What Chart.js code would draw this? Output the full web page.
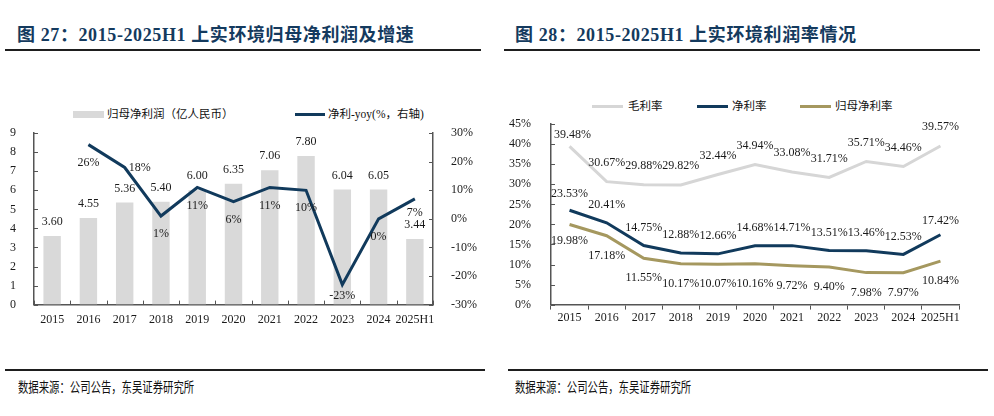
<!DOCTYPE html>
<html>
<head>
<meta charset="utf-8">
<script src="https://cdn.jsdelivr.net/npm/chart.js@4.4.0/dist/chart.umd.min.js"></script>
<style>
  body { margin: 0; width: 994px; height: 416px; background: #fff; position: relative; overflow: hidden;
         font-family: "Liberation Serif", "Noto Sans CJK SC", serif; }
  .title { position: absolute; top: 20px; font-size: 18px; font-weight: bold; color: #143a5e;
           letter-spacing: 0.6px; white-space: nowrap; }
  .rule { position: absolute; height: 2px; background: #1e1e1e; }
  .src { position: absolute; top: 376px; font-family: "Noto Sans CJK SC"; font-size: 14px; color: #111;
         white-space: nowrap; transform: scaleX(0.74); transform-origin: left top; }
  .leg { position: absolute; font-family: "Liberation Serif", "Noto Sans CJK SC"; font-size: 11.5px; color: #111;
         white-space: nowrap; line-height: 14px; }
  .sw { position: absolute; }
  canvas { position: absolute; }
</style>
</head>
<body>

<div class="title" style="left:17px">图 27：2015-2025H1 上实环境归母净利润及增速</div>
<div class="title" style="left:515px">图 28：2015-2025H1 上实环境利润率情况</div>
<div class="rule" style="left:5px; width:476px; top:49px"></div>
<div class="rule" style="left:504px; width:476px; top:49px"></div>

<div class="sw" style="left:73px; top:111px; width:31px; height:7px; background:#d9d9d9"></div>
<div class="leg" style="left:107px; top:107px">归母净利润（亿人民币）</div>
<div class="sw" style="left:295px; top:113px; width:30px; height:3px; background:#113a5c"></div>
<div class="leg" style="left:328px; top:107px">净利-yoy(%，右轴)</div>

<div class="sw" style="left:592px; top:105px; width:31px; height:3px; background:#d6d6d6"></div>
<div class="leg" style="left:628px; top:99px">毛利率</div>
<div class="sw" style="left:697px; top:105px; width:31px; height:3px; background:#113a5c"></div>
<div class="leg" style="left:732px; top:99px">净利率</div>
<div class="sw" style="left:800px; top:105px; width:31px; height:3px; background:#a5985f"></div>
<div class="leg" style="left:835px; top:99px">归母净利率</div>

<canvas id="left-chart" style="left:0; top:116px" width="497" height="215"></canvas>
<canvas id="right-chart" style="left:497px; top:105px" width="497" height="225"></canvas>

<div class="rule" style="left:5px; width:480px; top:369px"></div>
<div class="rule" style="left:508px; width:480px; top:369px"></div>
<div class="src" style="left:18px">数据来源：公司公告，东吴证券研究所</div>
<div class="src" style="left:515px">数据来源：公司公告，东吴证券研究所</div>

<script>
var years = ["2015", "2016", "2017", "2018", "2019", "2020", "2021", "2022", "2023", "2024", "2025H1"];

// 图27
var netProfit = [3.60, 4.55, 5.36, 5.40, 6.00, 6.35, 7.06, 7.80, 6.04, 6.05, 3.44];
var profitYoy = [null, 26, 18, 1, 11, 6, 11, 10, -23, 0, 7];

// 图28
var grossMargin = [39.48, 30.67, 29.88, 29.82, 32.44, 34.94, 33.08, 31.71, 35.71, 34.46, 39.57];
var netMargin = [23.53, 20.41, 14.75, 12.88, 12.66, 14.68, 14.71, 13.51, 13.46, 12.53, 17.42];
var parentMargin = [19.98, 17.18, 11.55, 10.17, 10.07, 10.16, 9.72, 9.40, 7.98, 7.97, 10.84];

var NAVY = "#113a5c";
var GOLD = "#a5985f";
var LIGHT = "#d6d6d6";
var BAR = "#d9d9d9";
var AXIS = "#555555";
var TEXT = "#1a1a1a";
var NUM_FONT = "Liberation Serif";

// value labels drawn next to each bar / point
var valueLabels = {
	id: "valueLabels",
	afterDatasetsDraw: function(chart){
		var ctx = chart.ctx;
		ctx.save();
		ctx.font = "12px '" + NUM_FONT + "'";
		ctx.fillStyle = TEXT;
		ctx.textBaseline = "middle";
		chart.data.datasets.forEach(function(ds, i){
			var lab = ds.valueLabel;
			if(!lab) return;
			chart.getDatasetMeta(i).data.forEach(function(el, j){
				var v = ds.data[j];
				if(v === null || v === undefined) return;
				var dx = 0, dy = lab.dy;
				if(lab.special && lab.special[j]){
					dx = lab.special[j][0];
					dy = lab.special[j][1];
				}
				ctx.textAlign = "center";
				ctx.fillText(lab.format(v), el.x + dx, el.y + dy);
			});
		});
		ctx.restore();
	}
};

// short tick marks on the axis lines
var axisTicks = {
	id: "axisTicks",
	afterDraw: function(chart, args, opts){
		var ctx = chart.ctx;
		ctx.save();
		ctx.strokeStyle = AXIS;
		ctx.lineWidth = 1;
		(opts.list || []).forEach(function(t){
			var s = chart.scales[t.scale];
			var len = t.len;
			ctx.beginPath();
			if(s.isHorizontal()){
				var n = chart.data.labels.length;
				var pts = [s.left, s.right];
				for(var i = 1; i < n; i++){
					pts.push((s.getPixelForValue(i - 1) + s.getPixelForValue(i)) / 2);
				}
				pts.forEach(function(x){
					x = Math.round(x) + 0.5;
					ctx.moveTo(x, s.top);
					ctx.lineTo(x, s.top + len);
				});
			} else {
				s.ticks.forEach(function(tk){
					var y = Math.round(s.getPixelForValue(tk.value)) + 0.5;
					var x0 = s.position === "left" ? s.right : s.left;
					ctx.moveTo(x0, y);
					ctx.lineTo(x0 + (s.position === "left" ? len : -len), y);
				});
			}
			ctx.stroke();
		});
		ctx.restore();
	}
};

function tickFont(){
	return { family: NUM_FONT, size: 12 };
}

function getLeftChart(){
	new Chart("left-chart", {
		data: {
			labels: years,
			datasets: [{
				type: "line",
				label: "净利-yoy(%，右轴)",
				data: profitYoy,
				yAxisID: "y1",
				borderColor: NAVY,
				borderWidth: 3,
				pointRadius: 0,
				tension: 0,
				valueLabel: {
					dy: 18,
					format: function(v){ return v + "%"; },
					special: { 2: [15, 0], 8: [0, 11], 10: [0, 14] }
				}
			}, {
				type: "bar",
				label: "归母净利润（亿人民币）",
				data: netProfit,
				yAxisID: "y",
				backgroundColor: BAR,
				barPercentage: 0.48,
				categoryPercentage: 1,
				valueLabel: {
					dy: -14,
					format: function(v){ return v.toFixed(2); }
				}
			}]
		},
		options: {
			responsive: false,
			animation: false,
			layout: { padding: { left: 0, right: 10, top: 6, bottom: 4 } },
			plugins: {
				legend: { display: false },
				tooltip: { enabled: false },
				axisTicks: { list: [{ scale: "x", len: -4 }, { scale: "y", len: 4 }, { scale: "y1", len: 4 }] }
			},
			scales: {
				x: {
					grid: { display: false },
					border: { color: AXIS, width: 1.5 },
					ticks: { font: tickFont(), color: TEXT, padding: 0, maxRotation: 0, autoSkip: false }
				},
				y: {
					position: "left",
					min: 0, max: 9,
					grid: { display: false },
					border: { color: AXIS, width: 1.5 },
					ticks: { stepSize: 1, font: tickFont(), color: TEXT, padding: 10 }
				},
				y1: {
					position: "right",
					min: -30, max: 30,
					grid: { display: false },
					border: { color: AXIS, width: 1.5 },
					ticks: { stepSize: 10, font: tickFont(), color: TEXT, padding: 10,
						callback: function(v){ return v + "%"; } }
				}
			}
		},
		plugins: [valueLabels, axisTicks]
	});
}

function getRightChart(){
	function pct(v){ return v.toFixed(2) + "%"; }
	new Chart("right-chart", {
		type: "line",
		data: {
			labels: years,
			datasets: [{
				label: "毛利率",
				data: grossMargin,
				borderColor: LIGHT,
				borderWidth: 3,
				pointRadius: 0,
				tension: 0,
				valueLabel: { dy: -19, format: pct, special: { 0: [3, -11] } }
			}, {
				label: "净利率",
				data: netMargin,
				borderColor: NAVY,
				borderWidth: 3,
				pointRadius: 0,
				tension: 0,
				valueLabel: { dy: -18, format: pct, special: { 0: [0, -16], 10: [0, -14] } }
			}, {
				label: "归母净利率",
				data: parentMargin,
				borderColor: GOLD,
				borderWidth: 3,
				pointRadius: 0,
				tension: 0,
				valueLabel: { dy: 20, format: pct, special: { 0: [0, 16] } }
			}]
		},
		options: {
			responsive: false,
			animation: false,
			layout: { padding: { left: 0, right: 35, top: 6, bottom: 4 } },
			plugins: {
				legend: { display: false },
				tooltip: { enabled: false },
				axisTicks: { list: [{ scale: "y", len: 4 }] }
			},
			scales: {
				x: {
					offset: true,
					grid: { offset: true, drawOnChartArea: false, drawTicks: true, tickLength: 5, color: AXIS },
					border: { color: AXIS, width: 1.5 },
					ticks: { font: tickFont(), color: TEXT, padding: 1, maxRotation: 0, autoSkip: false }
				},
				y: {
					min: 0, max: 45,
					grid: { display: false },
					border: { color: AXIS, width: 1.5 },
					ticks: { stepSize: 5, font: tickFont(), color: TEXT, padding: 12,
						callback: function(v){ return v + "%"; } }
				}
			}
		},
		plugins: [valueLabels, axisTicks]
	});
}

getLeftChart();
getRightChart();
</script>
</body>
</html>
